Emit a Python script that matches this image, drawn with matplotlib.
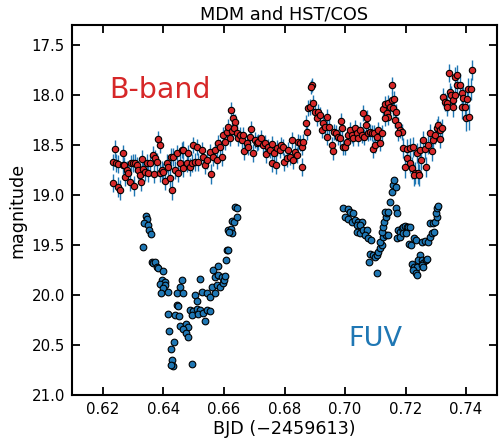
import matplotlib

matplotlib.use("Agg")
import matplotlib.pyplot as plt

# --- MDM B-band photometry (BJD - 2459613, mag, err) ---
b_time = [
    0.6240, 0.6233, 0.6243, 0.6250, 0.6266, 0.6266, 0.6269, 0.6233, 0.6250, 0.6256,
    0.6279, 0.6273, 0.6283, 0.6289, 0.6293, 0.6299, 0.6306, 0.6312, 0.6302, 0.6316,
    0.6322, 0.6326, 0.6329, 0.6332, 0.6339, 0.6345, 0.6349, 0.6355, 0.6365, 0.6369,
    0.6372, 0.6379, 0.6382, 0.6388, 0.6388, 0.6395, 0.6398, 0.6405, 0.6412, 0.6415,
    0.6421, 0.6425, 0.6428, 0.6431, 0.6438, 0.6445, 0.6448, 0.6455, 0.6461, 0.6464,
    0.6464, 0.6478, 0.6481, 0.6488, 0.6494, 0.6498, 0.6504, 0.6511,
    0.6514, 0.6527, 0.6531, 0.6537, 0.6544, 0.6554, 0.6557, 0.6564, 0.6570, 0.6577,
    0.6580, 0.6587, 0.6593, 0.6597, 0.6603, 0.6610, 0.6613, 0.6620, 0.6626, 0.6623,
    0.6630, 0.6636, 0.6633, 0.6643, 0.6646, 0.6653, 0.6660, 0.6663, 0.6666, 0.6676,
    0.6679, 0.6686, 0.6689, 0.6696, 0.6702, 0.6709, 0.6712, 0.6722, 0.6729, 0.6736,
    0.6739, 0.6745, 0.6752, 0.6759, 0.6759, 0.6765, 0.6772, 0.6775, 0.6785, 0.6788,
    0.6795, 0.6798, 0.6808, 0.6812, 0.6818, 0.6825, 0.6828,
    0.6835, 0.6841, 0.6845, 0.6851, 0.6858, 0.6858, 0.6861, 0.6871, 0.6874, 0.6878,
    0.6884, 0.6891, 0.6888, 0.6894, 0.6901, 0.6907, 0.6911, 0.6917, 0.6924, 0.6927,
    0.6934, 0.6940, 0.6940, 0.6947, 0.6957, 0.6960, 0.6964, 0.6970, 0.6977, 0.6983,
    0.6987, 0.6990, 0.6993, 0.7000, 0.7007, 0.7010, 0.7017, 0.7023, 0.7026, 0.7033,
    0.7040, 0.7043, 0.7050, 0.7056, 0.7060, 0.7063, 0.7069, 0.7073, 0.7076, 0.7083,
    0.7089, 0.7093, 0.7096, 0.7099, 0.7106, 0.7109, 0.7116, 0.7122, 0.7126, 0.7132,
    0.7139,
    0.7155, 0.7142, 0.7155, 0.7162, 0.7142, 0.7149, 0.7159, 0.7169, 0.7132, 0.7165,
    0.7175, 0.7182, 0.7188, 0.7175, 0.7192, 0.7205, 0.7215, 0.7225, 0.7198, 0.7205,
    0.7215, 0.7221, 0.7231, 0.7241, 0.7238, 0.7248, 0.7251, 0.7258, 0.7264, 0.7268,
    0.7274, 0.7281, 0.7288, 0.7291, 0.7298, 0.7304, 0.7307, 0.7314, 0.7314, 0.7321,
    0.7324, 0.7331, 0.7337, 0.7337, 0.7347, 0.7350, 0.7357, 0.7357, 0.7364, 0.7344,
    0.7364, 0.7370, 0.7370, 0.7380, 0.7387, 0.7390, 0.7403, 0.7387, 0.7397, 0.7407,
    0.7417, 0.7420, 0.7400, 0.7410, 0.7228, 0.7245,
]
b_mag = [
    18.54, 18.67, 18.68, 18.69, 18.58, 18.70, 18.70, 18.88, 18.92, 18.95,
    18.75, 18.82, 18.78, 18.87, 18.68, 18.68, 18.68, 18.70, 18.91, 18.75,
    18.80, 18.87, 18.64, 18.74, 18.77, 18.68, 18.78, 18.68, 18.60, 18.79,
    18.63, 18.67, 18.44, 18.50, 18.78, 18.75, 18.77, 18.86, 18.68, 18.72,
    18.83, 18.62, 18.95, 18.62, 18.75, 18.58, 18.78, 18.68, 18.55, 18.55,
    18.73, 18.68, 18.58, 18.72, 18.68, 18.50, 18.67, 18.52,
    18.67, 18.55, 18.62, 18.70, 18.65, 18.57, 18.79, 18.62, 18.55, 18.65,
    18.48, 18.52, 18.62, 18.40, 18.47, 18.37, 18.32, 18.43, 18.36, 18.15,
    18.23, 18.27, 18.33, 18.38, 18.43, 18.40, 18.45, 18.40, 18.56, 18.48,
    18.52, 18.42, 18.34, 18.58, 18.45, 18.48, 18.47, 18.43, 18.50, 18.48,
    18.59, 18.52, 18.55, 18.49, 18.68, 18.58, 18.70, 18.53, 18.55, 18.50,
    18.52, 18.67, 18.63, 18.55, 18.62, 18.45, 18.65,
    18.57, 18.60, 18.47, 18.48, 18.72, 18.52, 18.47, 18.28, 18.37, 18.13,
    18.12, 17.90, 17.92, 18.08, 18.17, 18.23, 18.17, 18.20, 18.35, 18.28,
    18.32, 18.22, 18.42, 18.32, 18.50, 18.56, 18.37, 18.38, 18.42, 18.43,
    18.26, 18.33, 18.52, 18.52, 18.47, 18.40, 18.35, 18.40, 18.43, 18.33,
    18.38, 18.43, 18.35, 18.40, 18.18, 18.42, 18.30, 18.23, 18.38, 18.37,
    18.38, 18.54, 18.38, 18.50, 18.42, 18.35, 18.48, 18.38, 18.14, 18.09,
    18.18,
    17.90, 18.08, 18.05, 18.04, 18.22, 18.12, 18.13, 18.17, 18.23, 18.25,
    18.30, 18.35, 18.37, 18.38, 18.53, 18.54, 18.53, 18.52, 18.72, 18.63,
    18.68, 18.73, 18.78, 18.78, 18.58, 18.55, 18.65, 18.45, 18.54, 18.72,
    18.50, 18.38, 18.56, 18.45, 18.40, 18.33, 18.30, 18.35, 18.44, 18.33,
    18.02, 18.07, 18.08, 18.12, 17.97, 18.00, 18.05, 18.12, 18.00, 17.78,
    17.82, 17.80, 17.90, 17.90, 17.98, 18.03, 18.04, 18.12, 18.12, 17.94,
    17.94, 17.75, 18.23, 18.22, 18.80, 18.80,
]
b_err = [
    0.09, 0.08, 0.09, 0.09, 0.08, 0.09, 0.08, 0.09, 0.10, 0.10,
    0.09, 0.09, 0.09, 0.09, 0.08, 0.09, 0.09, 0.08, 0.10, 0.09,
    0.09, 0.09, 0.09, 0.08, 0.09, 0.09, 0.09, 0.08, 0.09, 0.09,
    0.08, 0.09, 0.08, 0.08, 0.09, 0.09, 0.09, 0.09, 0.09, 0.08,
    0.09, 0.09, 0.10, 0.09, 0.09, 0.08, 0.09, 0.09, 0.08, 0.09,
    0.09, 0.09, 0.08, 0.09, 0.09, 0.08, 0.09, 0.08,
    0.09, 0.08, 0.09, 0.09, 0.09, 0.08, 0.10, 0.09, 0.08, 0.09,
    0.08, 0.08, 0.09, 0.08, 0.08, 0.08, 0.08, 0.08, 0.08, 0.08,
    0.08, 0.08, 0.08, 0.08, 0.08, 0.08, 0.08, 0.08, 0.09, 0.08,
    0.08, 0.08, 0.08, 0.09, 0.08, 0.08, 0.08, 0.08, 0.08, 0.08,
    0.09, 0.08, 0.08, 0.08, 0.09, 0.08, 0.09, 0.08, 0.08, 0.08,
    0.08, 0.09, 0.09, 0.08, 0.08, 0.08, 0.09,
    0.08, 0.08, 0.08, 0.08, 0.09, 0.08, 0.08, 0.08, 0.08, 0.08,
    0.08, 0.07, 0.07, 0.08, 0.08, 0.08, 0.08, 0.08, 0.08, 0.08,
    0.08, 0.08, 0.08, 0.08, 0.08, 0.09, 0.08, 0.08, 0.08, 0.08,
    0.08, 0.08, 0.08, 0.08, 0.08, 0.08, 0.08, 0.08, 0.08, 0.08,
    0.08, 0.08, 0.08, 0.08, 0.08, 0.08, 0.08, 0.08, 0.08, 0.08,
    0.08, 0.09, 0.08, 0.08, 0.08, 0.08, 0.08, 0.08, 0.08, 0.08,
    0.08,
    0.08, 0.08, 0.08, 0.08, 0.08, 0.08, 0.08, 0.08, 0.08, 0.08,
    0.08, 0.08, 0.08, 0.08, 0.10, 0.10, 0.10, 0.10, 0.11, 0.10,
    0.10, 0.11, 0.11, 0.11, 0.10, 0.10, 0.10, 0.09, 0.10, 0.10,
    0.09, 0.09, 0.10, 0.09, 0.09, 0.09, 0.09, 0.09, 0.09, 0.09,
    0.09, 0.09, 0.09, 0.09, 0.09, 0.09, 0.09, 0.10, 0.09, 0.09,
    0.10, 0.10, 0.11, 0.11, 0.11, 0.11, 0.11, 0.12, 0.12, 0.11,
    0.11, 0.10, 0.13, 0.13, 0.11, 0.11,
]

# --- HST/COS FUV light curve (BJD - 2459613, mag) ---
fuv_time = [
    0.6342, 0.6345, 0.6336, 0.6349, 0.6352, 0.6359, 0.6332, 0.6362, 0.6365, 0.6372,
    0.6379, 0.6382, 0.6398, 0.6395, 0.6405, 0.6388, 0.6405, 0.6398, 0.6392, 0.6415,
    0.6461, 0.6455, 0.6445, 0.6464, 0.6521, 0.6445, 0.6448, 0.6415, 0.6438, 0.6451,
    0.6455, 0.6474, 0.6481, 0.6464, 0.6474, 0.6481, 0.6418, 0.6435, 0.6425, 0.6428,
    0.6431, 0.6425, 0.6494, 0.6504, 0.6511, 0.6488, 0.6498, 0.6511, 0.6521, 0.6494,
    0.6514, 0.6531, 0.6544, 0.6554, 0.6537, 0.6527, 0.6544, 0.6554, 0.6570, 0.6560,
    0.6577, 0.6587, 0.6597, 0.6564, 0.6580, 0.6570, 0.6580, 0.6593, 0.6600, 0.6603,
    0.6607, 0.6610, 0.6613, 0.6613, 0.6623, 0.6626, 0.6617, 0.6626, 0.6633, 0.6636,
    0.6643, 0.6643,
    0.6993, 0.7010, 0.7017, 0.7026, 0.7000, 0.7010, 0.7023, 0.7033, 0.7043, 0.7056,
    0.7040, 0.7050, 0.7040, 0.7050, 0.7060, 0.7073, 0.7066, 0.7076, 0.7086, 0.7083,
    0.7093, 0.7099, 0.7079, 0.7106, 0.7109, 0.7116, 0.7122, 0.7116, 0.7126, 0.7136,
    0.7142, 0.7106, 0.7122, 0.7126, 0.7129, 0.7136, 0.7139, 0.7132, 0.7142, 0.7149,
    0.7155, 0.7159, 0.7162, 0.7169, 0.7169, 0.7172, 0.7175, 0.7182, 0.7188, 0.7192,
    0.7198, 0.7205, 0.7208, 0.7215, 0.7172, 0.7182, 0.7192, 0.7202, 0.7212, 0.7218,
    0.7228, 0.7235, 0.7248, 0.7241, 0.7255, 0.7258, 0.7268, 0.7271, 0.7221, 0.7228,
    0.7238, 0.7225, 0.7235, 0.7238, 0.7255, 0.7258, 0.7255, 0.7264, 0.7274, 0.7281,
    0.7288, 0.7294, 0.7281, 0.7291, 0.7298, 0.7304, 0.7301, 0.7304, 0.7307,
]
fuv_mag = [
    19.21, 19.24, 19.28, 19.30, 19.35, 19.39, 19.52, 19.67, 19.68, 19.67,
    19.72, 19.73, 19.76, 19.85, 19.87, 19.89, 19.90, 19.93, 19.98, 19.97,
    19.85, 19.92, 19.98, 19.98, 19.84, 20.10, 20.11, 20.19, 20.20, 20.21,
    20.31, 20.29, 20.32, 20.34, 20.38, 20.42, 20.36, 20.47, 20.54, 20.65,
    20.71, 20.70, 20.69, 20.00, 20.06, 20.15, 20.16, 20.14, 20.15, 20.20,
    20.19, 20.18, 20.15, 20.16, 20.26, 19.97, 19.98, 20.02, 19.98, 19.92,
    19.90, 19.92, 19.88, 19.75, 19.71, 19.82, 19.80, 19.82, 19.85, 19.81,
    19.65, 19.55, 19.55, 19.35, 19.34, 19.38, 19.37, 19.26, 19.27, 19.12,
    19.13, 19.22,
    19.13, 19.14, 19.17, 19.18, 19.22, 19.24, 19.27, 19.25, 19.27, 19.27,
    19.30, 19.30, 19.37, 19.38, 19.35, 19.35, 19.40, 19.43, 19.45, 19.59,
    19.60, 19.62, 19.67, 19.60, 19.57, 19.53, 19.50, 19.47, 19.42, 19.40,
    19.40, 19.78, 19.37, 19.32, 19.27, 19.22, 19.18, 19.17, 19.17, 19.07,
    18.97, 18.90, 18.85, 18.92, 19.13, 19.18, 19.35, 19.37, 19.33, 19.32,
    19.31, 19.32, 19.32, 19.32, 19.43, 19.42, 19.38, 19.38, 19.49, 19.50,
    19.43, 19.45, 19.60, 19.65, 19.65, 19.68, 19.65, 19.64, 19.69, 19.72,
    19.72, 19.75, 19.78, 19.80, 19.70, 19.72, 19.47, 19.46, 19.47, 19.42,
    19.38, 19.37, 19.28, 19.28, 19.27, 19.22, 19.18, 19.13, 19.11,
]

x_ticks = [0.62, 0.64, 0.66, 0.68, 0.70, 0.72, 0.74]
y_ticks = [17.5, 18.0, 18.5, 19.0, 19.5, 20.0, 20.5, 21.0]

fig = plt.figure(figsize=(5.0, 4.38), dpi=100)
ax = fig.add_axes([0.144, 0.098, 0.850, 0.845])

ax.errorbar(b_time, b_mag, yerr=b_err, fmt="none", ecolor="tab:blue",
            elinewidth=1.0, capsize=0, zorder=2)
ax.plot(b_time, b_mag, "o", color="tab:red", mec="black", mew=0.8, ms=4.6,
        ls="none", zorder=3)
ax.plot(fuv_time, fuv_mag, "o", color="tab:blue", mec="black", mew=0.8, ms=4.8,
        ls="none", zorder=3)

ax.text(0.6220, 18.03, "B-band", color="tab:red", fontsize=20.5,
        ha="left", va="baseline")
ax.text(0.7010, 20.51, "FUV", color="tab:blue", fontsize=19.5,
        ha="left", va="baseline")

ax.set_xlim(0.6098, 0.7502)
ax.set_ylim(21.0, 17.3)
ax.set_xticks(x_ticks)
ax.set_yticks(y_ticks)
ax.set_xticklabels([f"{v:.2f}" for v in x_ticks])
ax.set_yticklabels([f"{v:.1f}" for v in y_ticks])
ax.tick_params(direction="in", top=True, right=True, length=6, width=1.3,
               labelsize=10.8, pad=5)
for sp in ax.spines.values():
    sp.set_linewidth(1.5)

ax.set_xlabel("BJD (\u22122459613)", fontsize=12.6, labelpad=2)
ax.set_ylabel("magnitude", fontsize=12.6)
ax.set_title("MDM and HST/COS", fontsize=12.8, pad=4)

fig.savefig("out.png", dpi=100)
